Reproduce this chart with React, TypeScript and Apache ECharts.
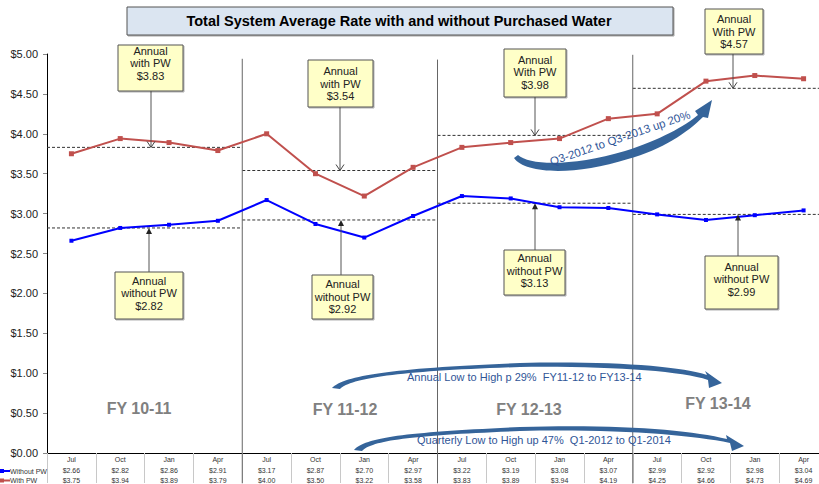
import React, { useEffect, useRef } from 'react';
import * as echarts from 'echarts';

const categories = ['Jul', 'Oct', 'Jan', 'Apr', 'Jul', 'Oct', 'Jan', 'Apr', 'Jul', 'Oct', 'Jan', 'Apr', 'Jul', 'Oct', 'Jan', 'Apr'];
const withoutPW = [2.66, 2.82, 2.86, 2.91, 3.17, 2.87, 2.70, 2.97, 3.22, 3.19, 3.08, 3.07, 2.99, 2.92, 2.98, 3.04];
const withPW = [3.75, 3.94, 3.89, 3.79, 4.00, 3.50, 3.22, 3.58, 3.83, 3.89, 3.94, 4.19, 4.25, 4.66, 4.73, 4.69];
const fiscalYears = ['FY 10-11', 'FY 11-12', 'FY 12-13', 'FY 13-14'];
const annualWithPW = [3.83, 3.54, 3.98, 4.57];
const annualWithoutPW = [2.82, 2.92, 3.13, 2.99];
const withLabels = ['with PW', 'with PW', 'With PW', 'With PW'];
const titleText = 'Total System Average Rate with and without Purchased Water';
const annualNote = 'Annual Low to High p 29%  FY11-12 to FY13-14';
const quarterlyNote = 'Quarterly Low to High up 47%  Q1-2012 to Q1-2014';
const q3Note = 'Q3-2012 to Q3-2013 up 20%';

echarts.graphic.registerShape(
  'annualArrow',
  echarts.graphic.extendPath(
    'M 332 388 C 345 375 395 368 520 363 C 610 361 680 366 707 375 L 705 371 L 722 383 L 709 388 L 708 380 C 680 371 610 366 520 367 C 400 371 352 378 340 389 Z',
    {}
  ) as any
);
echarts.graphic.registerShape(
  'quarterArrow',
  echarts.graphic.extendPath(
    'M 354 450 C 365 437 410 432 520 427 C 620 424 690 430 727 439 L 726 435 L 744 446 L 732 451 L 730 443 C 690 435 620 429 520 431 C 415 435 372 440 362 451 Z',
    {}
  ) as any
);
echarts.graphic.registerShape(
  'q3Arrow',
  echarts.graphic.extendPath(
    'M 518 155 C 530 166 575 166 625 151 C 660 140 685 126 698 115 L 695 111 L 712 100 L 708 118 L 703 117 C 688 132 662 150 628 159 C 575 176 525 174 514 158 Z',
    {}
  ) as any
);

const FONT = '"Liberation Sans", Arial, sans-serif';
const money = (v: number) => '$' + v.toFixed(2);

export default function App() {
  const ref = useRef<HTMLDivElement>(null);

  useEffect(() => {
    const chart = echarts.init(ref.current!, null, { renderer: 'svg' });

    const series: any[] = [
      {
        name: 'Without PW', type: 'line', data: withoutPW, xAxisIndex: 0, yAxisIndex: 0,
        symbol: 'rect', symbolSize: 4, lineStyle: { color: '#0000ff', width: 2 },
        itemStyle: { color: '#0000ff' }, z: 5,
      },
      {
        name: 'With PW', type: 'line', data: withPW, xAxisIndex: 0, yAxisIndex: 0,
        symbol: 'rect', symbolSize: 5, lineStyle: { color: '#c0504d', width: 2 },
        itemStyle: { color: '#c0504d' }, z: 5,
      },
    ];
    fiscalYears.forEach((_, i) => {
      const x0 = i * 4;
      const x1 = i === 3 ? 16 : i * 4 + 4;
      [annualWithPW[i], annualWithoutPW[i]].forEach((v) => {
        series.push({
          type: 'line', xAxisIndex: 1, yAxisIndex: 0, data: [[x0, v], [x1, v]],
          symbol: 'none', silent: true, z: 2,
          lineStyle: { color: '#333', width: 1, type: [3, 2] },
        });
      });
    });
    const sepTops = [4.94, 4.93, 4.99];
    [4, 8, 12].forEach((b, k) => {
      series.push({
        type: 'line', xAxisIndex: 1, yAxisIndex: 0, data: [[b, sepTops[k]], [b, -0.38]],
        symbol: 'none', silent: true, clip: false, z: 3,
        lineStyle: { color: '#666', width: 1 },
      });
    });

    const rowLabel = { interval: 0, fontSize: 7, color: '#333', margin: 3, fontFamily: FONT };

    chart.setOption({
      animation: false,
      grid: { left: 47, top: 54, width: 781, height: 400 },
      xAxis: [
        {
          type: 'category', data: categories, position: 'bottom', boundaryGap: true,
          axisLine: { lineStyle: { color: '#000', width: 1 } },
          axisTick: { show: true, interval: 0, length: 30, lineStyle: { color: '#c8c8c8' } },
          axisLabel: rowLabel,
        },
        { type: 'value', min: 0, max: 16, show: false },
        {
          type: 'category', data: withoutPW.map(money), position: 'bottom', offset: 11,
          axisLine: { show: false }, axisTick: { show: false }, axisLabel: rowLabel,
        },
        {
          type: 'category', data: withPW.map(money), position: 'bottom', offset: 21,
          axisLine: { show: false }, axisTick: { show: false }, axisLabel: rowLabel,
        },
      ],
      yAxis: {
        type: 'value', min: 0, max: 5, interval: 0.5,
        axisLine: { show: true, lineStyle: { color: '#000', width: 1 } },
        axisTick: { show: true, length: 4, lineStyle: { color: '#888' } },
        axisLabel: { formatter: (v: number) => money(v), fontSize: 11, color: '#222', margin: 9, fontFamily: FONT },
        splitLine: { show: false },
      },
      series,
    });

    const yPx = (v: number) => chart.convertToPixel({ yAxisIndex: 0 } as any, v) as number;

    const boxes = [
      { x: 118, y: 45, w: 65, h: 46, mid: 63, ax: 151, v: annualWithPW[0], kind: 'with', i: 0 },
      { x: 308, y: 60, w: 65, h: 47, mid: 83.5, ax: 340, v: annualWithPW[1], kind: 'with', i: 1 },
      { x: 504, y: 49, w: 62, h: 48, mid: 72, ax: 535, v: annualWithPW[2], kind: 'with', i: 2 },
      { x: 705, y: 9, w: 58, h: 45, mid: 31.5, ax: 733, v: annualWithPW[3], kind: 'with', i: 3 },
      { x: 115, y: 272, w: 68, h: 47, mid: 293, ax: 149, v: annualWithoutPW[0], kind: 'without', i: 0 },
      { x: 312, y: 275, w: 61, h: 44, mid: 296.5, ax: 341, v: annualWithoutPW[1], kind: 'without', i: 1 },
      { x: 504, y: 250, w: 61, h: 45, mid: 270.5, ax: 535, v: annualWithoutPW[2], kind: 'without', i: 2 },
      { x: 705, y: 256, w: 73, h: 53, mid: 279, ax: 738, v: annualWithoutPW[3], kind: 'without', i: 3 },
    ];

    const graphic: any[] = [];
    graphic.push({
      type: 'rect', shape: { x: 127, y: 7, width: 546, height: 28 },
      style: { fill: '#dbe5f1', stroke: '#555', lineWidth: 1, shadowColor: 'rgba(0,0,0,0.35)', shadowOffsetX: 1, shadowOffsetY: 1, shadowBlur: 1 }, z: 10,
    });
    graphic.push({
      type: 'text', x: 399, y: 21, z: 11,
      style: { text: titleText, fontSize: 14.5, fontWeight: 'bold', fill: '#000', fontFamily: FONT, align: 'center', verticalAlign: 'middle' },
    });
    const fyPos = [[139, 408], [345, 409], [529, 409], [718, 403]];
    fiscalYears.forEach((fy, i) => {
      graphic.push({
        type: 'text', x: fyPos[i][0], y: fyPos[i][1], z: 11,
        style: { text: fy, fontSize: 16, fontWeight: 'bold', fill: '#808080', fontFamily: FONT, align: 'center', verticalAlign: 'middle' },
      });
    });
    boxes.forEach((b) => {
      const tip = yPx(b.v);
      const label = b.kind === 'with'
        ? `Annual\n${withLabels[b.i]}\n${money(b.v)}`
        : `Annual\nwithout PW\n${money(b.v)}`;
      graphic.push({
        type: 'rect', shape: { x: b.x, y: b.y, width: b.w, height: b.h }, z: 20,
        style: { fill: '#ffffc8', stroke: '#555', lineWidth: 1, shadowColor: 'rgba(0,0,0,0.3)', shadowOffsetX: 1, shadowOffsetY: 1, shadowBlur: 1 },
      });
      graphic.push({
        type: 'text', x: b.x + b.w / 2, y: b.mid, z: 21,
        style: { text: label, fontSize: 11, lineHeight: 12.5, fill: '#222', fontFamily: FONT, align: 'center', verticalAlign: 'middle' },
      });
      if (b.kind === 'with') {
        graphic.push({ type: 'line', z: 19, shape: { x1: b.ax, y1: b.y + b.h, x2: b.ax, y2: tip }, style: { stroke: '#555', lineWidth: 1 } });
        graphic.push({ type: 'polyline', z: 19, shape: { points: [[b.ax - 4, tip - 6], [b.ax, tip], [b.ax + 4, tip - 6]] }, style: { stroke: '#444', lineWidth: 1, fill: null } });
      } else {
        graphic.push({ type: 'line', z: 19, shape: { x1: b.ax, y1: b.y, x2: b.ax, y2: tip + 3 }, style: { stroke: '#555', lineWidth: 1 } });
        graphic.push({ type: 'polygon', z: 19, shape: { points: [[b.ax - 3, tip + 6], [b.ax, tip], [b.ax + 3, tip + 6]] }, style: { fill: '#222' } });
      }
    });
    const arrowStyle = { fill: '#35649a' };
    graphic.push({ type: 'annualArrow', x: 0, y: 0, z: 12, style: arrowStyle });
    graphic.push({ type: 'quarterArrow', x: 0, y: 0, z: 12, style: arrowStyle });
    graphic.push({ type: 'q3Arrow', x: 0, y: 0, z: 12, style: arrowStyle });
    const noteStyle = { fontSize: 11, fill: '#2f5597', fontFamily: FONT, verticalAlign: 'middle' };
    graphic.push({ type: 'text', x: 407, y: 377, z: 13, style: { ...noteStyle, text: annualNote, align: 'left' } });
    graphic.push({ type: 'text', x: 417, y: 440, z: 13, style: { ...noteStyle, text: quarterlyNote, align: 'left' } });
    graphic.push({ type: 'text', x: 620, y: 138, rotation: 0.33, z: 13, style: { ...noteStyle, fontSize: 11.5, text: q3Note, align: 'center' } });
    const keys = [
      { name: 'Without PW', color: '#0000ff', y: 471 },
      { name: 'With PW', color: '#c0504d', y: 480.5 },
    ];
    keys.forEach((k) => {
      graphic.push({ type: 'line', z: 15, shape: { x1: 0, y1: k.y, x2: 10, y2: k.y }, style: { stroke: k.color, lineWidth: 2 } });
      graphic.push({ type: 'rect', z: 15, shape: { x: 0, y: k.y - 2, width: 4, height: 4 }, style: { fill: k.color } });
      graphic.push({ type: 'text', x: 10, y: k.y, z: 15, style: { text: k.name, fontSize: 7, fill: '#333', fontFamily: FONT, verticalAlign: 'middle', align: 'left' } });
    });

    chart.setOption({ graphic });

    return () => chart.dispose();
  }, []);

  return (
    <div style={{ position: 'absolute', left: 0, top: 0, width: 819, height: 484, overflow: 'hidden', background: '#fff' }}>
      <div ref={ref} style={{ width: 840, height: 484 }} />
    </div>
  );
}
